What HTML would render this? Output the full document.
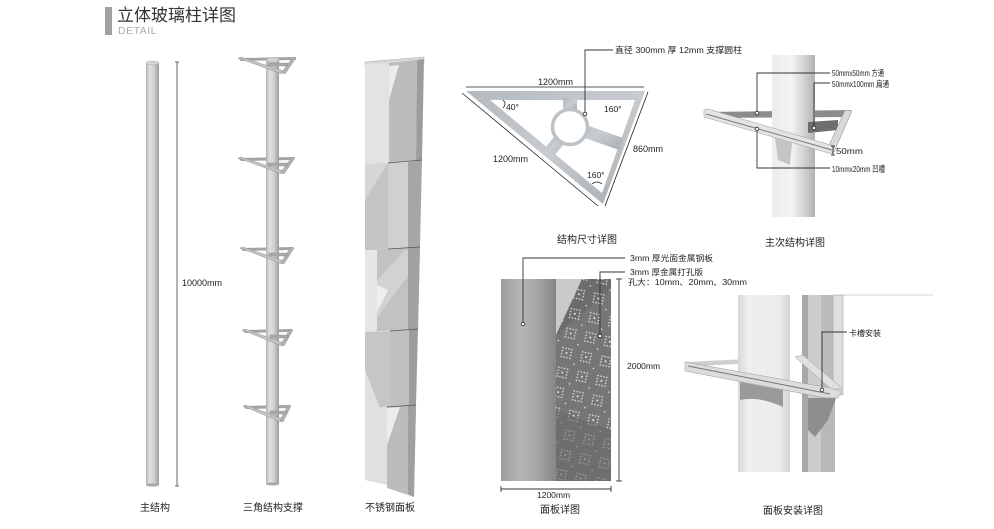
<!DOCTYPE html>
<html><head><meta charset="utf-8"><style>
html,body{margin:0;padding:0;background:#fff;width:994px;height:529px;overflow:hidden}
svg{display:block}
text{font-family:"Liberation Sans","Noto Sans CJK SC",sans-serif;fill:#222}
.lbl{font-size:10px}
.ann{font-size:8px}
</style></head><body>
<svg width="994" height="529" viewBox="0 0 994 529" xmlns="http://www.w3.org/2000/svg">
<defs>
<linearGradient id="pole" x1="0" x2="1"><stop offset="0" stop-color="#b5b5b5"/><stop offset=".3" stop-color="#e2e2e2"/><stop offset=".65" stop-color="#cdcdcd"/><stop offset="1" stop-color="#9a9a9a"/></linearGradient>
<linearGradient id="frame" x1="0" y1="0" x2="1" y2="1"><stop offset="0" stop-color="#b3b9bd"/><stop offset=".5" stop-color="#c8ccd0"/><stop offset="1" stop-color="#a7adb1"/></linearGradient>
<linearGradient id="bigpole" x1="0" x2="1"><stop offset="0" stop-color="#ececec"/><stop offset=".45" stop-color="#f4f4f4"/><stop offset=".75" stop-color="#d2d2d2"/><stop offset="1" stop-color="#b2b2b2"/></linearGradient>
<linearGradient id="plate" x1="0" x2="1"><stop offset="0" stop-color="#9c9c9c"/><stop offset=".35" stop-color="#b6b6b6"/><stop offset=".65" stop-color="#a6a6a6"/><stop offset="1" stop-color="#868686"/></linearGradient>
<linearGradient id="lpole" x1="0" x2="1"><stop offset="0" stop-color="#d8d8d8"/><stop offset=".2" stop-color="#efefef"/><stop offset=".8" stop-color="#ececec"/><stop offset="1" stop-color="#d2d2d2"/></linearGradient>
<pattern id="dots" width="20" height="20" patternUnits="userSpaceOnUse" patternTransform="rotate(12)">
<g fill="#e6e6e6">
<circle cx="3" cy="3" r=".8"/><circle cx="6" cy="3" r=".8"/><circle cx="9" cy="3" r=".8"/><circle cx="12" cy="3" r=".8"/>
<circle cx="3" cy="12" r=".8"/><circle cx="6" cy="12" r=".8"/><circle cx="9" cy="12" r=".8"/><circle cx="12" cy="12" r=".8"/>
<circle cx="3" cy="6" r=".8"/><circle cx="3" cy="9" r=".8"/><circle cx="12" cy="6" r=".8"/><circle cx="12" cy="9" r=".8"/>
<circle cx="7.5" cy="7.5" r="1"/><circle cx="17" cy="17" r=".8"/>
</g>
</pattern>
</defs>

<!-- Title -->
<rect x="105" y="7" width="7" height="28" fill="#a0a0a0"/>
<text x="117" y="21" font-size="17" style="fill:#333">立体玻璃柱详图</text>
<text x="118" y="34" font-size="10.5" letter-spacing="0.5" style="fill:#aaa">DETAIL</text>

<!-- Column 1: main structure -->
<rect x="146" y="63" width="13" height="422" fill="url(#pole)"/>
<ellipse cx="152.5" cy="63" rx="6.5" ry="2" fill="#d6d6d6" stroke="#aaa" stroke-width=".5"/>
<ellipse cx="152.5" cy="485" rx="6.5" ry="1.6" fill="#a8a8a8"/>
<line x1="177" y1="62" x2="177" y2="486" stroke="#444" stroke-width=".8"/>
<line x1="175" y1="62" x2="179" y2="62" stroke="#444" stroke-width=".8"/>
<line x1="175" y1="486" x2="179" y2="486" stroke="#444" stroke-width=".8"/>
<text x="182" y="286" font-size="9">10000mm</text>
<text x="140" y="511" class="lbl">主结构</text>

<!-- Column 2: triangle supports -->
<g fill="#a4a4a4">
<polygon points="238,58 296,57 296,60 241,61"/>
<polygon points="238,158 294,157 294,160 241,161"/>
<polygon points="240,248 293,247 293,250 243,251"/>
<polygon points="242,330 292,329 292,332 245,333"/>
<polygon points="243,406 290,405 290,408 246,409"/>
</g>
<rect x="266" y="60" width="13" height="424" fill="url(#pole)"/>
<ellipse cx="272.5" cy="484" rx="6.5" ry="1.5" fill="#a8a8a8"/>
<g stroke="#8a8a8a" stroke-width=".4">
<g transform="translate(238,58)"><polygon points="0,0 3,-1 46,13 44,16" fill="#c2c2c2"/><polygon points="55,-1 58,0 47,16 44,14" fill="#b2b2b2"/><rect x="30" y="5" width="20" height="3" fill="#aaa"/><ellipse cx="35" cy="2" rx="7" ry="2.5" fill="#d0d0d0"/></g>
<g transform="translate(238,158)"><polygon points="0,0 3,-1 46,13 44,16" fill="#c2c2c2"/><polygon points="54,-1 57,0 46,16 43,14" fill="#b2b2b2"/><rect x="30" y="5" width="20" height="3" fill="#aaa"/></g>
<g transform="translate(240,248)"><polygon points="0,0 3,-1 44,13 42,16" fill="#c2c2c2"/><polygon points="51,-1 54,0 44,16 41,14" fill="#b2b2b2"/><rect x="29" y="5" width="19" height="3" fill="#aaa"/></g>
<g transform="translate(242,330)"><polygon points="0,0 3,-1 42,13 40,16" fill="#c2c2c2"/><polygon points="48,-1 51,0 42,16 39,14" fill="#b2b2b2"/><rect x="28" y="5" width="18" height="3" fill="#aaa"/></g>
<g transform="translate(243,406)"><polygon points="0,0 3,-1 40,13 38,16" fill="#c2c2c2"/><polygon points="45,-1 48,0 40,16 37,14" fill="#b2b2b2"/><rect x="27" y="5" width="17" height="3" fill="#aaa"/></g>
</g>
<text x="243" y="511" class="lbl">三角结构支撑</text>

<!-- Column 3: stainless panels -->
<polygon points="365,62 424,57 424,63 365,67" fill="#d8d8d8" stroke="#999" stroke-width=".4"/>
<polygon points="365,64 389,63 389,163 365,164" fill="#e3e3e3"/>
<polygon points="389,63 417,60 416,161 389,163" fill="#bcbcbc"/>
<polygon points="417,60 424,59 422,160 416,161" fill="#9c9c9c"/>
<polygon points="389,66 399,65 389,100" fill="#ececec"/>
<polygon points="365,164 388,163 388,249 365,250" fill="#c4c4c4"/>
<polygon points="365,164 388,163 365,200" fill="#d6d6d6"/>
<polygon points="388,163 408,162 408,248 388,249" fill="#d0d0d0"/>
<polygon points="408,162 422,160 420,247 408,248" fill="#a6a6a6"/>
<polygon points="365,250 420,247 418,329 365,332" fill="#c2c2c2"/>
<polygon points="365,250 377,250 377,331 365,332" fill="#e6e6e6"/>
<polygon points="377,280 405,250 418,250 418,262 377,318" fill="#d2d2d2"/>
<polygon points="377,285 388,290 377,312" fill="#efefef"/>
<polygon points="408,248 420,247 418,329 408,330" fill="#a2a2a2"/>
<polygon points="365,332 390,331 390,407 365,408" fill="#c6c6c6"/>
<polygon points="365,370 380,408 365,408" fill="#e0e0e0"/>
<polygon points="390,331 409,330 409,406 390,407" fill="#c0c0c0"/>
<polygon points="409,330 418,329 416,405 409,406" fill="#9e9e9e"/>
<polygon points="365,408 387,407 387,485 365,480" fill="#e0e0e0"/>
<polygon points="387,407 416,405 414,497 387,488" fill="#bcbcbc"/>
<polygon points="387,408 400,407 387,445" fill="#ececec"/>
<polygon points="408,406 416,405 414,497 408,494" fill="#a0a0a0"/>
<g stroke="#555" stroke-width=".8">
<line x1="388" y1="163" x2="422" y2="160"/>
<line x1="388" y1="249" x2="420" y2="247"/>
<line x1="390" y1="331" x2="418" y2="329"/>
<line x1="387" y1="407" x2="416" y2="405"/>
</g>
<text x="365" y="511" class="lbl">不锈钢面板</text>

<!-- Triangle dimension detail -->
<polygon points="466,91 645,91 603,204" fill="url(#frame)"/>
<polygon points="490,100 635,100 602,193" fill="#fff"/>
<rect x="563" y="98" width="14" height="14" fill="url(#frame)"/>
<polygon points="574.6,130.8 565.4,123.2 545.9,146.9 555.1,154.5" fill="url(#frame)"/>
<polygon points="572.3,120 567.7,132 619,150 623,138" fill="url(#frame)"/>
<circle cx="570" cy="127" r="17.5" fill="#fff" stroke="#bcc2c6" stroke-width="3.5"/>
<g stroke="#222" stroke-width=".8" fill="none">
<line x1="466" y1="87" x2="644" y2="87"/>
<line x1="462" y1="93" x2="598" y2="206"/>
<line x1="648" y1="92" x2="605" y2="206"/>
<path d="M503,100 Q507,104 503,108"/>
<path d="M592,184 Q597,180 602,184"/>
</g>
<text x="538" y="85" font-size="9">1200mm</text>
<text x="493" y="162" font-size="9">1200mm</text>
<text x="633" y="152" font-size="9">860mm</text>
<text x="506" y="110" font-size="8.5">40°</text>
<text x="604" y="112" font-size="8.5">160°</text>
<text x="587" y="178" font-size="8.5">160°</text>
<polyline points="585,114 585,50 613,50" fill="none" stroke="#333" stroke-width=".9"/>
<circle cx="585" cy="114" r="1.8" fill="#fff" stroke="#222" stroke-width=".8"/>
<text x="615" y="53" font-size="8.5" textLength="127" lengthAdjust="spacingAndGlyphs">直径 300mm 厚 12mm 支撑圆柱</text>
<text x="557" y="243" class="lbl">结构尺寸详图</text>

<!-- Main/secondary structure detail -->
<polygon points="705,112 850,110 850,117 712,118" fill="#8c8c8c"/>
<rect x="772" y="55" width="43" height="162" fill="url(#bigpole)"/>
<polygon points="775,138 792,143 790,165 778,160" fill="#c4c4c4"/>
<polygon points="808,122 838,120 838,130 808,133" fill="#6e6e6e"/>
<polygon points="845,110 852,111 834,152 827,150" fill="#d8d8d8" stroke="#888" stroke-width=".5"/>
<polygon points="704,110 708,109 834,146 832,154 704,117" fill="#e4e4e4" stroke="#999" stroke-width=".5"/>
<line x1="706" y1="114" x2="832" y2="150" stroke="#7a7a7a" stroke-width="1"/>
<g fill="none" stroke="#333" stroke-width=".9">
<polyline points="757,113 757,73 830,73"/>
<polyline points="814,128 814,83 830,83"/>
<polyline points="757,129 757,168 830,168"/>
<line x1="833" y1="146" x2="833" y2="155"/>
<line x1="831" y1="146" x2="835" y2="146"/>
<line x1="831" y1="155" x2="835" y2="155"/>
</g>
<g fill="#fff" stroke="#222" stroke-width=".8">
<circle cx="757" cy="113" r="1.8"/><circle cx="814" cy="128" r="1.8"/><circle cx="757" cy="129" r="1.8"/>
</g>
<text x="832" y="76" font-size="8.5" textLength="52" lengthAdjust="spacingAndGlyphs">50mmx50mm 方通</text>
<text x="832" y="87" font-size="8.5" textLength="57" lengthAdjust="spacingAndGlyphs">50mmx100mm 扁通</text>
<text x="836" y="154" font-size="8.5" textLength="27" lengthAdjust="spacingAndGlyphs">50mm</text>
<text x="832" y="172" font-size="8.5" textLength="53" lengthAdjust="spacingAndGlyphs">10mmx20mm 凹槽</text>
<text x="765" y="246" class="lbl">主次结构详图</text>

<!-- Panel detail -->
<rect x="501" y="279" width="55" height="202" fill="url(#plate)"/>
<rect x="556" y="279" width="55" height="202" fill="#6c6c6c"/>
<polygon points="556,335 611,290 611,430 556,410" fill="#767676"/>
<rect x="556" y="279" width="55" height="202" fill="url(#dots)"/>
<polygon points="556,410 611,430 611,481 556,481" fill="#707070" opacity=".6"/>
<polygon points="556,279 582,279 556,335" fill="#c9c9c9"/>
<g fill="none" stroke="#333" stroke-width=".9">
<polyline points="523,324 523,258 625,258"/>
<polyline points="600,336 600,272 625,272"/>
<line x1="619" y1="279" x2="619" y2="481"/>
<line x1="616" y1="279" x2="622" y2="279"/>
<line x1="616" y1="481" x2="622" y2="481"/>
<line x1="501" y1="489" x2="611" y2="489"/>
<line x1="501" y1="486" x2="501" y2="492"/>
<line x1="611" y1="486" x2="611" y2="492"/>
</g>
<g fill="#fff" stroke="#222" stroke-width=".8">
<circle cx="523" cy="324" r="1.8"/><circle cx="600" cy="336" r="1.8"/>
</g>
<text x="630" y="261" font-size="8" textLength="83" lengthAdjust="spacingAndGlyphs">3mm 厚光面金属钢板</text>
<text x="630" y="275" font-size="8" textLength="73" lengthAdjust="spacingAndGlyphs">3mm 厚金属打孔版</text>
<text x="628" y="285" font-size="8" textLength="119" lengthAdjust="spacingAndGlyphs">孔大：10mm、20mm、30mm</text>
<text x="627" y="369" font-size="8.5">2000mm</text>
<text x="537" y="498" font-size="8.5">1200mm</text>
<text x="540" y="513" class="lbl">面板详图</text>

<!-- Panel installation detail -->
<line x1="843" y1="295" x2="933" y2="295" stroke="#d4d4d4" stroke-width="1"/>
<polygon points="685,362 790,357 790,361 700,366" fill="#cfcfcf"/>
<rect x="738" y="295" width="52" height="177" fill="url(#lpole)"/>
<rect x="802" y="295" width="6" height="177" fill="#a8a8a8"/>
<rect x="808" y="295" width="13" height="177" fill="#cdcdcd"/>
<rect x="821" y="295" width="12" height="100" fill="#bcbcbc"/>
<rect x="833" y="295" width="10" height="100" fill="#dedede" stroke="#999" stroke-width=".5"/>
<rect x="821" y="395" width="14" height="77" fill="#b8b8b8"/>
<polygon points="808,398 836,398 828,420 815,437 808,430" fill="#8e8e8e"/>
<path d="M740,382 L783,390 L783,407 Q760,396 740,400 Z" fill="#9a9a9a"/>
<polygon points="795,357 803,355 842,388 832,390" fill="#e0e0e0" stroke="#999" stroke-width=".5"/>
<polygon points="685,362 830,388 842,391 838,398 826,398 685,371" fill="#dcdcdc" stroke="#999" stroke-width=".5"/>
<line x1="688" y1="366" x2="830" y2="394" stroke="#777" stroke-width="1"/>
<polyline points="822,390 822,332 847,332" fill="none" stroke="#333" stroke-width=".9"/>
<circle cx="822" cy="390" r="1.8" fill="#fff" stroke="#222" stroke-width=".8"/>
<text x="849" y="336" font-size="8">卡槽安装</text>
<text x="763" y="514" class="lbl">面板安装详图</text>
</svg>
</body></html>
